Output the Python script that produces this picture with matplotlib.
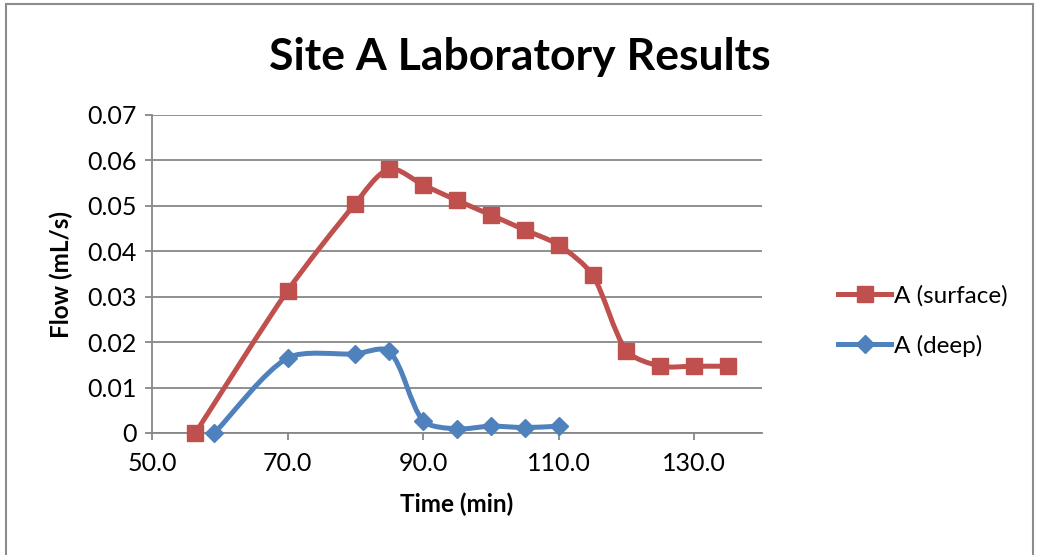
import matplotlib
matplotlib.use("Agg")
import matplotlib.pyplot as plt
import numpy as np
from matplotlib.path import Path
from matplotlib.patches import PathPatch, Rectangle
from matplotlib.lines import Line2D

plt.rcParams['font.family'] = ['Lato', 'DejaVu Sans']

title = "Site A Laboratory Results"
xlabel = "Time (min)"
ylabel = "Flow (mL/s)"

surface_x = [56.4, 70, 80, 85, 90, 95, 100, 105, 110, 115, 120, 125, 130, 135]
surface_y = [0.0, 0.0313, 0.0505, 0.0581, 0.0546, 0.0512, 0.0480, 0.0447, 0.0414,
             0.0348, 0.0181, 0.0147, 0.0147, 0.0147]
deep_x = [59.2, 70, 80, 85, 90, 95, 100, 105, 110]
deep_y = [0.0, 0.0165, 0.0174, 0.0180, 0.0027, 0.0009, 0.0015, 0.0012, 0.0015]

xticks = [50, 70, 90, 110, 130]
yticks = [0, 0.01, 0.02, 0.03, 0.04, 0.05, 0.06, 0.07]
ytick_labels = ["0", "0.01", "0.02", "0.03", "0.04", "0.05", "0.06", "0.07"]

RED = "#C0504D"
BLUE = "#4F81BD"
GRID = "#878787"

W, H = 1037, 555
fig = plt.figure(figsize=(W / 100, H / 100), dpi=100)

# outer chart border (bottom edge lies outside the picture)
fig.patches.append(Rectangle((6 / W, -0.05), (1033 - 6) / W, 1.05 - 4 / H,
                             transform=fig.transFigure, fill=False,
                             edgecolor="#8C8C8C", linewidth=1.5))

ax = fig.add_axes([152 / W, 1 - 433 / H, 610 / W, 318 / H])
ax.set_xlim(50, 140)
ax.set_ylim(0, 0.07)


def smooth_path(x, y, k=0.26):
    # smoothing computed in display space, arms proportional to segment length
    disp = ax.transData.transform(np.column_stack([x, y]).astype(float))
    n = len(disp)
    verts = [disp[0]]
    codes = [Path.MOVETO]

    def tangent(i):
        p0 = disp[i - 1] if i > 0 else disp[i]
        p2 = disp[i + 1] if i + 1 < n else disp[i]
        d = p2 - p0
        nrm = np.hypot(*d)
        return d / nrm if nrm > 0 else d

    for i in range(n - 1):
        p1, p2 = disp[i], disp[i + 1]
        L = np.hypot(*(p2 - p1))
        c1 = p1 + tangent(i) * L * k
        c2 = p2 - tangent(i + 1) * L * k
        verts += [c1, c2, p2]
        codes += [Path.CURVE4] * 3
    verts = ax.transData.inverted().transform(np.array(verts))
    return Path(verts, codes)


for xs, ys, col, mk, ms in [(surface_x, surface_y, RED, 's', 12),
                             (deep_x, deep_y, BLUE, 'D', 9.5)]:
    ax.add_patch(PathPatch(smooth_path(xs, ys), facecolor='none', edgecolor=col,
                           linewidth=3.6, capstyle='round', joinstyle='round',
                           zorder=3, clip_on=False))
    ax.plot(xs, ys, linestyle='none', marker=mk, markersize=ms, color=col,
            markeredgecolor=col, zorder=4, clip_on=False)

ax.set_xticks(xticks)
ax.set_xticklabels([f"{v:.1f}" for v in xticks])
ax.set_yticks(yticks)
ax.set_yticklabels(ytick_labels)
ax.grid(axis='y', color=GRID, linewidth=1.3)
ax.set_axisbelow(True)
for s in ['top', 'right']:
    ax.spines[s].set_visible(False)
for s in ['left', 'bottom']:
    ax.spines[s].set_color(GRID)
    ax.spines[s].set_linewidth(1.3)
ax.tick_params(axis='both', colors=GRID, labelcolor='black', labelsize=18,
               length=5, width=1.3, direction='out')
ax.tick_params(axis='y', pad=6)
ax.tick_params(axis='x', pad=9)

ax.set_xlabel(xlabel, fontsize=17.5, fontweight='bold', labelpad=12)
ax.set_ylabel(ylabel, fontsize=17.5, fontweight='bold', labelpad=10)

fig.text(520 / W, 1 - 57 / H, title, fontsize=32, fontweight='bold',
         ha='center', va='center')

handles = [Line2D([], [], color=RED, linewidth=3.6, marker='s', markersize=12),
           Line2D([], [], color=BLUE, linewidth=3.6, marker='D', markersize=9.5)]
fig.legend(handles, ["A (surface)", "A (deep)"], loc='center left',
           bbox_to_anchor=(816 / W, 1 - 321 / H), frameon=False, fontsize=17.5,
           handlelength=2.2, handletextpad=0.12, labelspacing=1.15)

fig.savefig("out.png", dpi=100)
